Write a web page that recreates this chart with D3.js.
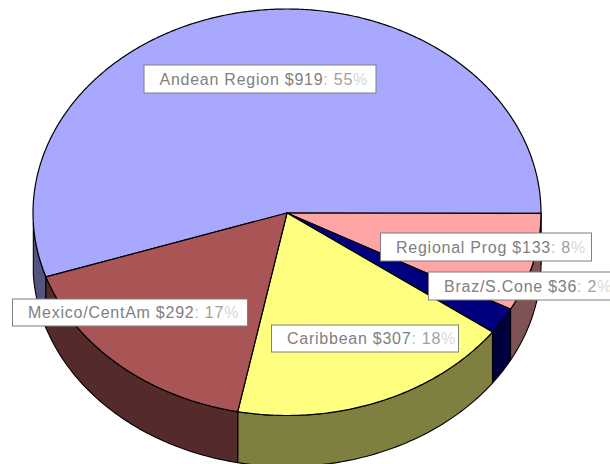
<!DOCTYPE html>
<html><head><meta charset="utf-8">
<script src="https://cdn.jsdelivr.net/npm/d3@7/dist/d3.min.js"></script>
<style>html,body{margin:0;padding:0;background:#fff;overflow:hidden}svg{display:block}</style>
</head><body><svg id="c" width="610" height="464"></svg>
<script>
const categories = ["Andean Region","Regional Prog","Braz/S.Cone","Caribbean","Mexico/CentAm"];
const values = [919,133,36,307,292];
const percents = ["55%","8%","2%","18%","17%"];
const topColors = ["#a8a8ff","#ffa5a5","#00007f","#ffff7f","#aa5555"];
const wallColors = ["#54547f","#7f5353","#00003f","#7f7f3f","#552a2a"];
const labelBoxes = [[144,65,232,28],[380.5,233,211,28],[428.5,272,190,28],[271.5,325,187,27],[12.5,299,235,27]];

const cx=287, cy=213, rx=254, ryFar=204, ryNear=202.5, depth=51;
const svg=d3.select("#c");
const deg=Math.PI/180, two=2*Math.PI;
const first=-106*deg;
const pie=d3.pie().sort(null).value(d=>d).startAngle(first).endAngle(first+two);
const arcs=pie(values).map((d,i)=>({...d,i}));
// 3-D view foreshortens the angles on the lower-left of the disc a little
const view=d3.scaleLinear().domain([-106,90,191.6,254]).range([-108.4,90,191.1,251.6]);
const proj=a=>{const v=view(a/deg)*deg, c=Math.cos(v);
  return [cx+rx*Math.sin(v), cy-(c>0?ryFar:ryNear)*c];};
const line=d3.line();
const samples=(a,b,n)=>d3.range(n+1).map(k=>a+(b-a)*k/n);

// walls: only the near half of the rim (between 90 and 270 degrees) is visible
function wallPath(a0,a1){
  const lo=Math.max(a0,90*deg), hi=Math.min(a1,270*deg);
  if(hi<=lo) return null;
  const pts=samples(lo,hi,60).map(proj);
  return line(pts.concat(pts.slice().reverse().map(([x,y])=>[x,y+depth])))+"Z";
}
arcs.forEach(d=>{
  // the first slice runs over the top, its visible wall is the part left of 270 degrees
  const spans=[[d.startAngle,d.endAngle],[d.startAngle+two,Math.min(d.endAngle+two,270*deg)]];
  spans.forEach(([p,q])=>{
    const w=wallPath(p,q);
    if(w) svg.append("path").attr("d",w).attr("fill",wallColors[d.i]).attr("stroke","#000").attr("stroke-width",1.1).attr("stroke-linejoin","round");
  });
});
// top faces
arcs.forEach(d=>{
  const pts=samples(d.startAngle,d.endAngle,Math.ceil((d.endAngle-d.startAngle)/deg)*2).map(proj);
  svg.append("path").attr("d",line([[cx,cy],...pts])+"Z").attr("fill",topColors[d.i])
    .attr("stroke","#000").attr("stroke-width",1.2).attr("stroke-linejoin","round");
});
// labels
categories.forEach((c,i)=>{
  const [x,y,w,h]=labelBoxes[i];
  const g=svg.append("g");
  g.append("rect").attr("x",x).attr("y",y).attr("width",w).attr("height",h).attr("fill","#fff").attr("stroke","#7f7f7f").attr("stroke-width",1);
  const t=g.append("text").attr("x",x+15.5).attr("y",y+h/2+5.5)
    .attr("font-family","'Liberation Sans',Arial,sans-serif").attr("font-size",16).attr("letter-spacing",0.75);
  t.append("tspan").attr("fill","#808080").text(`${c} $${values[i]}`);
  t.append("tspan").attr("fill","#c0c0c0").text(": ");
  t.append("tspan").attr("fill","#a0a0a0").text(percents[i].slice(0,-1));
  t.append("tspan").attr("fill","#d8d8d8").text("%");
});
</script></body></html>
